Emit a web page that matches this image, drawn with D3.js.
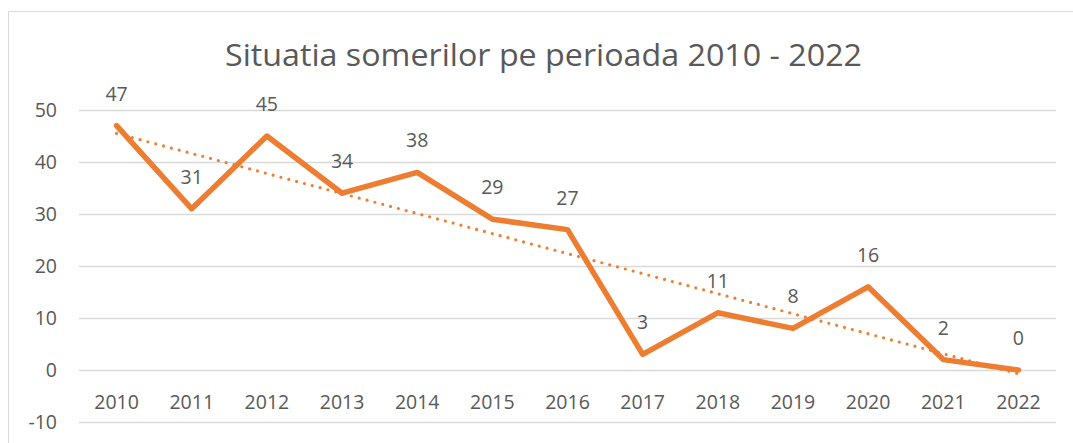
<!DOCTYPE html>
<html><head><meta charset="utf-8">
<script src="https://cdn.jsdelivr.net/npm/d3@7"></script>
<style>body{margin:0;background:#fff}svg{display:block}</style>
</head><body>
<svg id="c" width="1073" height="443"></svg>
<script>
const title = "Situatia somerilor pe perioada 2010 - 2022";
const years = ["2010","2011","2012","2013","2014","2015","2016","2017","2018","2019","2020","2021","2022"];
const values = [47,31,45,34,38,29,27,3,11,8,16,2,0];
const yTicks = [-10,0,10,20,30,40,50];

const svg = d3.select("#c");
const font = "'Open Sans', sans-serif";
const txt = "#595959";
const orange = "#ED7D31";
const fs = 19.5;

// chart border
svg.append("path").attr("d","M8.5,443 V11.5 H1073").attr("fill","none").attr("stroke","#D9D9D9").attr("stroke-width",1);

const x = d3.scaleBand().domain(years).range([79,1056]);
const y = d3.scaleLinear().domain([-10,50]).range([422,110]);

// gridlines
svg.append("g").selectAll("line").data(yTicks).join("line")
  .attr("x1",79).attr("x2",1056)
  .attr("y1",d=>Math.round(y(d))+0.5).attr("y2",d=>Math.round(y(d))+0.5)
  .attr("stroke","#D9D9D9").attr("stroke-width",1.3);

// y axis labels
const yAxis = d3.axisLeft(y).tickValues(yTicks).tickSize(0).tickPadding(0).tickFormat(d => String(d));
const ya = svg.append("g").attr("transform","translate(57,0)").call(yAxis);
ya.select(".domain").remove();
ya.selectAll("text").attr("font-family",font).attr("font-size",fs).attr("fill",txt).attr("dy","0.35em");

// x axis labels
const xAxis = d3.axisBottom(x).tickSize(0).tickPadding(0);
const xa = svg.append("g").attr("transform","translate(0,409)").call(xAxis);
xa.select(".domain").remove();
xa.selectAll("text").attr("font-family",font).attr("font-size",fs).attr("fill",txt).attr("dy",0);

const cx = d => x(d) + x.bandwidth()/2;

// trendline (linear regression of the series)
const n = values.length;
const mx = d3.mean(d3.range(n)), my = d3.mean(values);
const slope = d3.sum(d3.range(n), i => (i-mx)*(values[i]-my)) / d3.sum(d3.range(n), i => (i-mx)*(i-mx));
const icpt = my - slope*mx;
svg.append("line")
  .attr("x1",cx(years[0])).attr("y1",y(icpt))
  .attr("x2",cx(years[n-1])).attr("y2",y(icpt+slope*(n-1)))
  .attr("stroke",orange).attr("stroke-width",3.2).attr("stroke-linecap","round")
  .attr("stroke-dasharray","0 8.1");

// main line
const line = d3.line().x((d,i)=>cx(years[i])).y(d=>y(d));
svg.append("path").datum(values).attr("d",line)
  .attr("fill","none").attr("stroke",orange).attr("stroke-width",5.5)
  .attr("stroke-linejoin","round").attr("stroke-linecap","round");

// data labels
svg.append("g").selectAll("text").data(values).join("text")
  .attr("x",(d,i)=>cx(years[i])).attr("y",d=>y(d)-25)
  .attr("text-anchor","middle").attr("font-family",font).attr("font-size",fs).attr("fill",txt)
  .text(d=>d);

// title
svg.append("text").attr("x",543.5).attr("y",66).attr("text-anchor","middle")
  .attr("font-family",font).attr("font-weight",400).attr("font-size",31).attr("fill",txt)
  .attr("textLength",637).attr("lengthAdjust","spacingAndGlyphs")
  .text(title);
</script>
</body></html>
